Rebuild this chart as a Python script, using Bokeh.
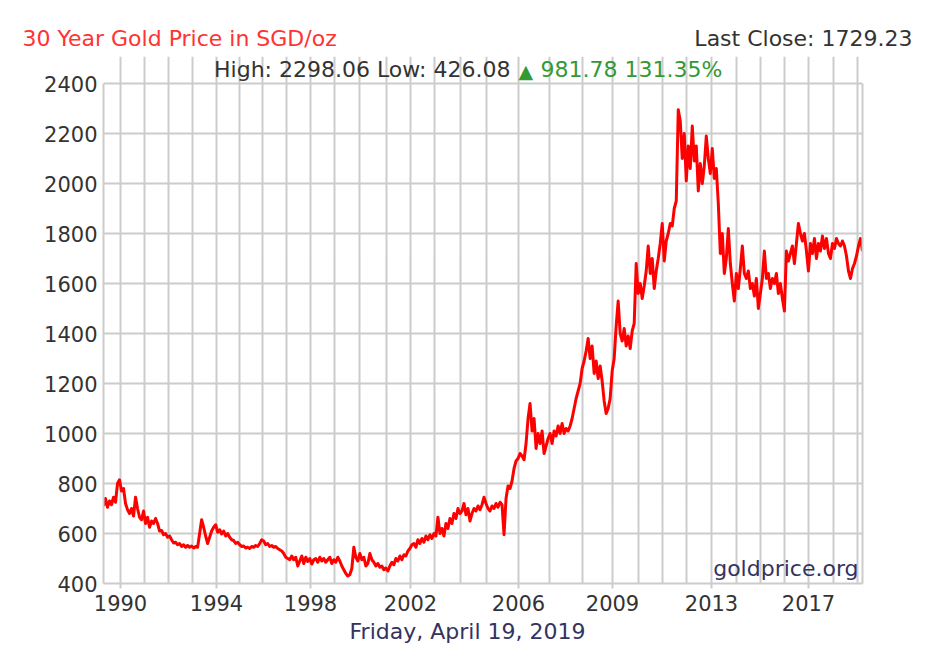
from bokeh.plotting import figure
from bokeh.models import Range1d, FixedTicker, Label, LinearAxis
from bokeh.embed import file_html
from bokeh.resources import INLINE

# ---------------- data ----------------
title_text = "30 Year Gold Price in SGD/oz"
last_close = 1729.23
high_value = 2298.06
low_value = 426.08
change_value = 981.78
change_pct = 131.35
date_text = "Friday, April 19, 2019"
source_text = "goldprice.org"

# year boundary grid lines, positioned on the chart's sample-index axis (0..759)
grid_years = list(range(1990, 2020))
grid_year_pos = [17, 41, 65, 89, 113, 136, 159, 183, 207, 231, 256, 283, 307, 331, 357,
                 383, 415, 446, 479, 509, 535, 559, 583, 608, 633, 657, 681, 705, 730, 754]
label_years = [1990, 1994, 1998, 2002, 2006, 2009, 2013, 2017]

y_ticks = [400, 600, 800, 1000, 1200, 1400, 1600, 1800, 2000, 2200, 2400]

# price samples (SGD/oz), evenly spaced along the index axis, April 1989 -> April 2019
prices = [
    710, 740, 705, 730, 715, 745, 725, 800, 815, 770, 780, 720, 695, 680, 700, 670, 745, 700, 665, 655,
    690, 640, 665, 625, 650, 640, 660, 640, 610, 612, 595, 600, 585, 590, 575, 562, 565, 555, 560, 548,
    555, 545, 552, 545, 550, 542, 548, 545, 600, 655, 625, 590, 560, 585, 610, 625, 635, 605, 615, 598,
    610, 590, 600, 585, 575, 572, 560, 565, 555, 548, 550, 542, 545, 540, 548, 545, 552, 548, 560, 575,
    570, 555, 560, 548, 552, 545, 548, 540, 535, 530, 520, 505, 500, 495, 510, 495, 505, 470, 490, 510,
    480, 505, 488, 500, 478, 495, 500, 485, 505, 490, 500, 485, 495, 505, 480, 495, 485, 505, 490, 470,
    455, 440, 430, 435, 460, 545, 505, 490, 520, 495, 505, 470, 480, 520, 495, 485, 470, 480, 465, 470,
    455, 462, 450, 470, 485, 475, 500, 490, 510, 495, 515, 510, 530, 540, 555, 560, 545, 575, 560, 580,
    565, 590, 575, 595, 580, 600, 590, 665, 600, 620, 590, 640, 620, 660, 640, 680, 660, 700, 680, 690,
    720, 675, 700, 650, 680, 700, 690, 710, 695, 715, 745, 720, 700, 690, 710, 700, 720, 705, 725, 715,
    595, 740, 790, 780, 810, 860, 890, 900, 920, 910, 895, 960, 1060, 1120, 1010, 1060, 940, 1000, 960, 1010,
    920, 950, 980, 1000, 960, 1010, 990, 1030, 1000, 1040, 1000, 1020, 1010, 1030, 1060, 1100, 1140, 1170, 1200, 1260,
    1290, 1330, 1380, 1300, 1350, 1240, 1290, 1220, 1270, 1210, 1130, 1080, 1100, 1140, 1250, 1300, 1430, 1530, 1400, 1370,
    1420, 1350, 1390, 1340, 1410, 1440, 1680, 1560, 1600, 1540, 1590, 1650, 1750, 1640, 1700, 1580, 1650, 1700, 1760, 1840,
    1690, 1770, 1800, 1840, 1830, 1900, 1930, 2295, 2250, 2100, 2200, 2010, 2150, 2060, 2230, 2090, 2150, 1970, 2080, 2000,
    2070, 2190, 2100, 2040, 2140, 2020, 2060, 1920, 1720, 1800, 1640, 1700, 1820, 1680, 1600, 1530, 1640, 1580, 1660, 1750,
    1640, 1620, 1650, 1580, 1600, 1550, 1620, 1500, 1560, 1620, 1730, 1620, 1640, 1580, 1620, 1600, 1640, 1560, 1600, 1540,
    1490, 1730, 1690, 1720, 1750, 1680, 1760, 1840, 1800, 1770, 1800, 1730, 1650, 1760, 1720, 1780, 1700, 1760, 1730, 1790,
    1740, 1780, 1720, 1700, 1760, 1740, 1780, 1760, 1750, 1770, 1750, 1710, 1650, 1620, 1660, 1680, 1710, 1750, 1780, 1730,
]

# ---------------- figure ----------------
FONT = "DejaVu Sans"
GRID = "#cccccc"
DARK = "#333333"
GREEN = "#339933"
NAVY = "#33335f"
n = len(prices)
x_span = 759
xs = [i * x_span / (n - 1) for i in range(n)]

# The frame reaches up into the header strip (top border 56 px) so the
# "High / Low" line can be drawn inside it; the visible plot box is 400..2400.
TOP_BORDER = 56
y_top = 2400 + (83 - TOP_BORDER) * 4   # 4 SGD per pixel, plot box top at 83 px

p = figure(width=934, height=650, output_backend="svg", toolbar_location=None,
           x_range=Range1d(0, x_span), y_range=Range1d(400, y_top),
           min_border_left=103, min_border_right=72, min_border_top=TOP_BORDER,
           min_border_bottom=67)
p.background_fill_color = "white"
p.border_fill_color = "white"
p.outline_line_color = None

# grids (limited to the plot box)
p.xgrid.ticker = FixedTicker(ticks=grid_year_pos)
p.xgrid.bounds = (400, 2400)
p.ygrid.ticker = FixedTicker(ticks=y_ticks)
for g in (p.xgrid, p.ygrid):
    g.grid_line_color = GRID
    g.grid_line_width = 2

# x axis
label_pos = [grid_year_pos[grid_years.index(y)] for y in label_years]
p.xaxis.ticker = FixedTicker(ticks=label_pos)
p.xaxis.major_label_overrides = {pos: str(y) for pos, y in zip(label_pos, label_years)}
p.xaxis.axis_line_color = GRID
p.xaxis.axis_line_width = 2
p.xaxis.major_tick_line_color = GRID
p.xaxis.major_tick_line_width = 2
p.xaxis.major_tick_out = 5
p.xaxis.major_tick_in = 0
p.xaxis.minor_tick_line_color = None
p.xaxis.major_label_standoff = 6

# y axis (its line is the left border of the plot box)
p.yaxis.ticker = FixedTicker(ticks=y_ticks)
p.yaxis.bounds = (400, 2400)
p.yaxis.axis_line_color = GRID
p.yaxis.axis_line_width = 2
p.yaxis.major_tick_line_color = None
p.yaxis.minor_tick_line_color = None
p.yaxis.major_tick_out = 0
p.yaxis.major_tick_in = 0
p.yaxis.major_label_standoff = 6

for ax in (p.xaxis, p.yaxis):
    ax.major_label_text_font = FONT
    ax.major_label_text_font_size = "21px"
    ax.major_label_text_color = DARK

# right border of the plot box
right_axis = LinearAxis(ticker=FixedTicker(ticks=[]), bounds=(400, 2400),
                        axis_line_color=GRID, axis_line_width=2,
                        major_tick_line_color=None, minor_tick_line_color=None,
                        major_label_text_font_size="0px")
p.add_layout(right_axis, "right")

# price line
p.line(xs, prices, line_color="#ff0000", line_width=3, line_join="round")

# ---------------- header / footer texts (canvas pixel positions) ----------------
def lab(x, y, text, color, size="22px", align="left", place="center"):
    lbl = Label(x=x, y=y, x_units="canvas", y_units="canvas", text=text,
                text_color=color, text_font=FONT, text_font_size=size,
                text_align=align, text_baseline="middle")
    if place == "center":
        p.add_layout(lbl)
    else:
        p.add_layout(lbl, place)

lab(22, 38, title_text, "#ff3333", place="above")
lab(912, 38, f"Last Close: {last_close:.2f}", DARK, align="right", place="above")
lab(510, 69, f"High: {high_value:.2f} Low: {low_value:.2f}", DARK, align="right")
lab(518, 70, "\u25B2", GREEN, size="19px")
lab(540, 69, f"{change_value:.2f} {change_pct:.2f}%", GREEN)
lab(467, 631, date_text, NAVY, align="center", place="below")
lab(858, 568, source_text, NAVY, align="right")

open("out.html", "w").write(file_html(p, INLINE))
